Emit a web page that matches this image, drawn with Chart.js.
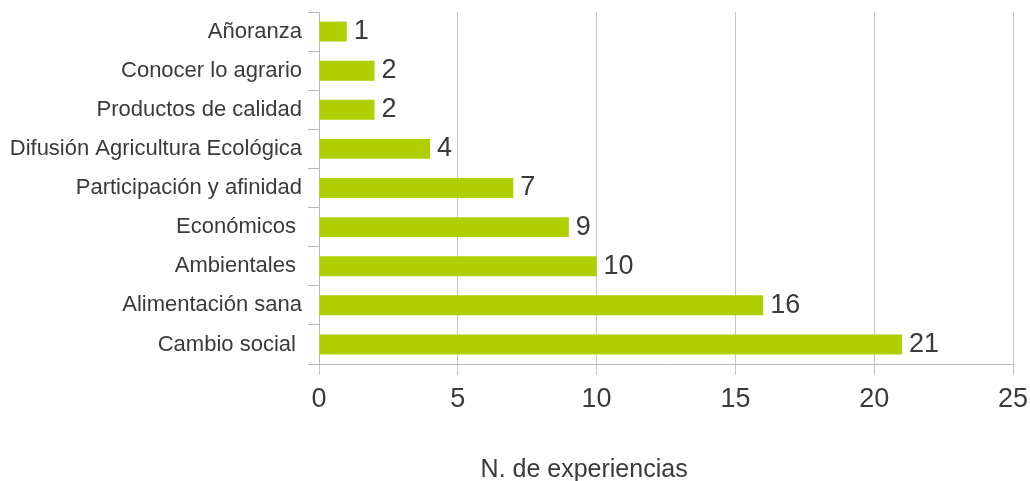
<!DOCTYPE html>
<html>
<head>
<meta charset="utf-8">
<script src="https://cdn.jsdelivr.net/npm/chart.js@4.4.1/dist/chart.umd.min.js"></script>
<style>
	html, body { margin: 0; padding: 0; background: #fff; }
	#wrap { width: 1030px; height: 481px; }
</style>
</head>
<body>
<div id="wrap"><canvas id="expChart" width="1030" height="481"></canvas></div>
<script>
const categories = [
	"Añoranza",
	"Conocer lo agrario",
	"Productos de calidad",
	"Difusión Agricultura Ecológica",
	"Participación y afinidad",
	"Económicos ",
	"Ambientales ",
	"Alimentación sana",
	"Cambio social "
];
const experiencias = [1, 2, 2, 4, 7, 9, 10, 16, 21];
const xTitle = "N. de experiencias";

const fontFamily = "'Liberation Sans', Arial, sans-serif";
const textColor = "#3a3a3a";

// numbers at the end of each bar
const valueLabels = {
	id: 'valueLabels',
	afterDatasetsDraw(chart) {
		const ctx = chart.ctx;
		const meta = chart.getDatasetMeta(0);
		ctx.save();
		ctx.font = "27px " + fontFamily;
		ctx.fillStyle = textColor;
		ctx.textAlign = 'left';
		ctx.textBaseline = 'middle';
		meta.data.forEach((bar, i) => {
			ctx.fillText(String(experiencias[i]), bar.x + 7, bar.y);
		});
		ctx.restore();
	}
};

// axis title, placed a bit left of the plot centre like the original
const axisTitle = {
	id: 'axisTitle',
	afterDraw(chart) {
		const ctx = chart.ctx;
		const area = chart.chartArea;
		ctx.save();
		ctx.font = "25px " + fontFamily;
		ctx.fillStyle = textColor;
		ctx.textAlign = 'center';
		ctx.textBaseline = 'alphabetic';
		ctx.fillText(xTitle, area.left + (area.right - area.left) * 0.382, chart.height - 4);
		ctx.restore();
	}
};

const ctx = document.getElementById('expChart').getContext('2d');
new Chart(ctx, {
	type: 'bar',
	data: {
		labels: categories,
		datasets: [{
			label: xTitle,
			data: experiencias,
			backgroundColor: '#afcf00',
			borderWidth: 0,
			barPercentage: 0.51,
			categoryPercentage: 1.0,
		}],
	},
	options: {
		indexAxis: 'y',
		responsive: false,
		animation: false,
		layout: {
			padding: { top: 12, right: 17, left: 0, bottom: 0 },
		},
		plugins: {
			legend: { display: false },
			tooltip: { enabled: false },
		},
		scales: {
			x: {
				min: 0,
				max: 25,
				ticks: {
					stepSize: 5,
					color: textColor,
					padding: 8,
					font: { family: fontFamily, size: 27 },
				},
				grid: {
					color: '#c6c6c6',
					lineWidth: 1,
					tickLength: 11,
				},
				border: { color: '#b8b8b8' },
				afterFit: (scale) => {
					scale.height = 117;
					scale.paddingLeft = 0;
					scale.paddingRight = 0;
				},
			},
			y: {
				ticks: {
					color: textColor,
					padding: 6,
					font: { family: fontFamily, size: 22 },
				},
				grid: {
					offset: true,
					drawOnChartArea: false,
					color: '#b8b8b8',
					tickLength: 11,
				},
				border: { color: '#b8b8b8' },
				afterFit: (scale) => {
					scale.width = 319;
					scale.paddingTop = 0;
					scale.paddingBottom = 0;
				},
			},
		},
	},
	plugins: [valueLabels, axisTitle],
});
</script>
</body>
</html>
